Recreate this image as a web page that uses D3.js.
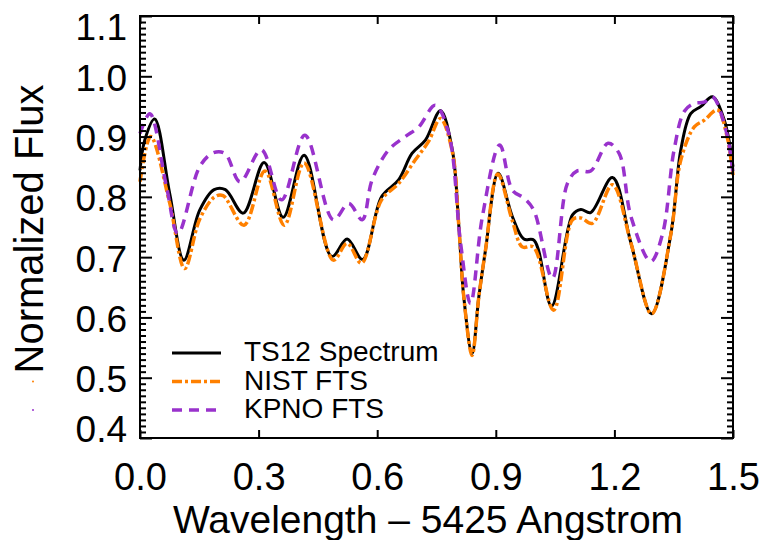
<!DOCTYPE html>
<html>
<head>
<meta charset="utf-8">
<script src="https://cdn.jsdelivr.net/npm/d3@7"></script>
<style>
  body { margin: 0; background: #fff; }
  text { font-family: "Liberation Sans", Arial, Helvetica, sans-serif; fill: #000; }
</style>
</head>
<body>
<script>
// wavelength offsets (Angstrom - 5425) and normalized flux
var ts12Wave = [0, 0.012, 0.037, 0.075, 0.111, 0.151, 0.1875, 0.216, 0.261, 0.314, 0.362, 0.415, 0.485, 0.524, 0.563, 0.611, 0.654, 0.688, 0.722, 0.76, 0.79, 0.806, 0.819, 0.84, 0.857, 0.874, 0.906, 0.942, 0.971, 0.997, 1.041, 1.094, 1.115, 1.14, 1.195, 1.242, 1.294, 1.343, 1.368, 1.393, 1.419, 1.448, 1.478, 1.5];
var ts12Flux = [0.844, 0.894, 0.929, 0.806, 0.695, 0.778, 0.812, 0.812, 0.773, 0.857, 0.766, 0.869, 0.701, 0.730, 0.696, 0.800, 0.828, 0.872, 0.894, 0.943, 0.878, 0.756, 0.634, 0.540, 0.634, 0.712, 0.839, 0.767, 0.730, 0.728, 0.619, 0.770, 0.779, 0.774, 0.832, 0.723, 0.606, 0.739, 0.878, 0.938, 0.950, 0.966, 0.927, 0.850];

var nistWave = [0, 0.027, 0.075, 0.113, 0.151, 0.189, 0.21, 0.263, 0.316, 0.365, 0.415, 0.489, 0.524, 0.56, 0.611, 0.654, 0.696, 0.73, 0.76, 0.79, 0.806, 0.819, 0.84, 0.857, 0.874, 0.905, 0.942, 0.967, 0.995, 1.046, 1.094, 1.115, 1.144, 1.195, 1.242, 1.294, 1.343, 1.368, 1.402, 1.427, 1.461, 1.485, 1.5];
var nistFlux = [0.825, 0.900, 0.790, 0.681, 0.763, 0.800, 0.802, 0.753, 0.843, 0.753, 0.856, 0.695, 0.723, 0.690, 0.795, 0.822, 0.861, 0.892, 0.930, 0.875, 0.756, 0.634, 0.537, 0.634, 0.712, 0.838, 0.760, 0.717, 0.717, 0.612, 0.762, 0.765, 0.756, 0.820, 0.723, 0.606, 0.739, 0.861, 0.916, 0.927, 0.944, 0.900, 0.836];

var kpnoWave = [0, 0.025, 0.067, 0.096, 0.151, 0.185, 0.215, 0.253, 0.307, 0.358, 0.417, 0.489, 0.528, 0.562, 0.587, 0.629, 0.671, 0.705, 0.747, 0.781, 0.811, 0.836, 0.866, 0.91, 0.942, 0.971, 0.996, 1.043, 1.081, 1.106, 1.14, 1.184, 1.212, 1.242, 1.292, 1.322, 1.351, 1.377, 1.402, 1.427, 1.448, 1.482, 1.5];
var kpnoFlux = [0.905, 0.938, 0.817, 0.739, 0.850, 0.873, 0.872, 0.825, 0.878, 0.795, 0.902, 0.762, 0.789, 0.762, 0.828, 0.878, 0.900, 0.916, 0.952, 0.905, 0.723, 0.623, 0.767, 0.886, 0.811, 0.798, 0.778, 0.665, 0.822, 0.843, 0.843, 0.889, 0.872, 0.767, 0.693, 0.739, 0.878, 0.942, 0.955, 0.957, 0.966, 0.911, 0.840];

var xTicks = [0, 0.3, 0.6, 0.9, 1.2, 1.5];
var yTicks = [0.4, 0.5, 0.6, 0.7, 0.8, 0.9, 1.0, 1.1];
var legendLabels = ["TS12 Spectrum", "NIST FTS", "KPNO FTS"];

var w = 761, h = 540;
var plotL = 140, plotR = 733, plotT = 16, plotB = 438;

var svg = d3.select("body").append("svg")
    .attr("width", w)
    .attr("height", h);
svg.append("rect").attr("width", w).attr("height", h).attr("fill", "#fff");

var x = d3.scaleLinear().domain([0, 1.5]).range([plotL, plotR]);
var y = d3.scaleLinear().domain([0.4, 1.1]).range([plotB, plotT]);

var yMinor = d3.range(40, 111).map(function(d) { return d / 100; })
    .filter(function(d) { return Math.round(d * 100) % 10 !== 0; });

var series = [
    {wave: ts12Wave, flux: ts12Flux, color: "#000", width: 3, dash: null},
    {wave: nistWave, flux: nistFlux, color: "#ff8000", width: 3.5, dash: "10,3,3,3"},
    {wave: kpnoWave, flux: kpnoFlux, color: "#9932cc", width: 3.5, dash: "10,7"}
];

var line = d3.line()
    .x(function(d) { return x(d[0]); })
    .y(function(d) { return y(d[1]); })
    .curve(d3.curveCatmullRom.alpha(0.5));

var plot = svg.append("g");
series.forEach(function(s) {
    var pts = s.wave.map(function(v, i) { return [v, s.flux[i]]; });
    plot.append("path")
        .datum(pts)
        .attr("d", line)
        .attr("fill", "none")
        .attr("stroke", s.color)
        .attr("stroke-width", s.width)
        .attr("stroke-dasharray", s.dash);
});

// axes, ticks pointing inward
function styleAxis(g) {
    g.select(".domain").remove();
    g.selectAll(".tick line").attr("stroke", "#000").attr("stroke-width", 2);
    g.selectAll("text").attr("font-size", 38).attr("font-family", "Liberation Sans, Arial, sans-serif");
}

var yLab = svg.append("g").attr("transform", "translate(" + plotL + ",0)")
    .call(d3.axisLeft(y).tickValues(yTicks).tickSize(-12).tickPadding(13).tickFormat(d3.format(".1f")))
    .call(styleAxis);
// end labels are pulled inside the axis range, like IDL does
yLab.selectAll("text")
    .attr("font-size", 37)
    .attr("dy", "0.38em")
    .attr("y", function(d) { return d === 1.1 ? 9 : (d === 0.4 ? -11 : 0); });

svg.append("g").attr("transform", "translate(" + plotL + ",0)")
    .call(d3.axisLeft(y).tickValues(yMinor).tickSize(-6).tickFormat(""))
    .call(styleAxis);
svg.append("g").attr("transform", "translate(" + plotR + ",0)")
    .call(d3.axisRight(y).tickValues(yTicks).tickSize(-12).tickFormat(""))
    .call(styleAxis);
svg.append("g").attr("transform", "translate(" + plotR + ",0)")
    .call(d3.axisRight(y).tickValues(yMinor).tickSize(-6).tickFormat(""))
    .call(styleAxis);
svg.append("g").attr("transform", "translate(0," + plotB + ")")
    .call(d3.axisBottom(x).tickValues(xTicks).tickSize(-8).tickPadding(25).tickFormat(d3.format(".1f")))
    .call(styleAxis);
svg.append("g").attr("transform", "translate(0," + plotT + ")")
    .call(d3.axisTop(x).tickValues(xTicks).tickSize(-8).tickFormat(""))
    .call(styleAxis);

svg.append("rect")
    .attr("x", plotL).attr("y", plotT)
    .attr("width", plotR - plotL).attr("height", plotB - plotT)
    .attr("fill", "none").attr("stroke", "#000").attr("stroke-width", 2);

svg.append("text")
    .attr("transform", "translate(43,229) rotate(-90)")
    .attr("text-anchor", "middle")
    .attr("font-size", 40)
    .text("Normalized Flux");

svg.append("text")
    .attr("x", 428)
    .attr("y", 533)
    .attr("text-anchor", "middle")
    .attr("font-size", 39)
    .text("Wavelength \u2013 5425 Angstrom");

// legend
var legend = svg.append("g");
series.forEach(function(s, i) {
    var ly = 353 + i * 28.5;
    legend.append("line")
        .attr("x1", 172).attr("x2", 221)
        .attr("y1", ly).attr("y2", ly)
        .attr("stroke", s.color)
        .attr("stroke-width", s.width)
        .attr("stroke-dasharray", s.dash);
    legend.append("text")
        .attr("x", 244).attr("y", ly + 8)
        .attr("font-size", 28)
        .text(legendLabels[i]);
    if (i > 0) {
        // stray symbol dots left of the axis, as in the original
        legend.append("circle")
            .attr("cx", 33).attr("cy", ly)
            .attr("r", 1).attr("fill", s.color);
    }
});
</script>
</body>
</html>
